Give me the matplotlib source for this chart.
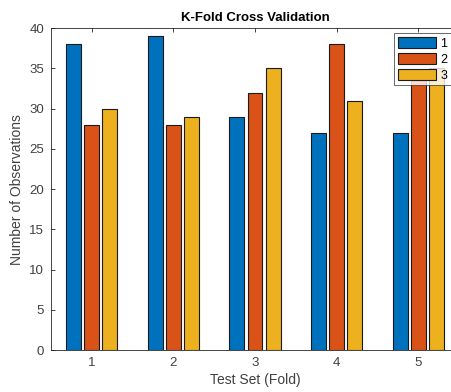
"""K-fold cross validation: observations per class in each test fold."""

import matplotlib

matplotlib.use("Agg")
import matplotlib.pyplot as plt
import numpy as np

folds = [1, 2, 3, 4, 5]
class_labels = ["1", "2", "3"]
class1 = [38, 39, 29, 27, 27]
class2 = [28, 28, 32, 38, 34]
class3 = [30, 29, 35, 31, 35]

colors = ["#0072BD", "#D95319", "#EDB120"]
ink = "#262626"

plt.rcParams["font.family"] = ["Liberation Sans", "DejaVu Sans"]

fig = plt.figure(figsize=(4.51, 3.92), dpi=100)
ax = fig.add_axes([0.113, 0.107, 0.905, 0.821])

x = np.array(folds, dtype=float)
step = 0.667 / 3
width = step * 0.82
for i, (vals, lab) in enumerate(zip([class1, class2, class3], class_labels)):
    ax.bar(x + (i - 1) * step, vals, width=width, color=colors[i],
           edgecolor="#1a1a1a", linewidth=0.8, label=lab, zorder=2)

ax.set_xlim(0.5, 5.5)
ax.set_ylim(0, 40)
ax.set_xticks(folds)
ax.set_yticks(np.arange(0, 41, 5))
ax.tick_params(direction="in", top=True, right=True, length=3, width=0.6,
               labelsize=9.5, colors=ink, labelcolor="#404040", pad=5)
for s in ax.spines.values():
    s.set_linewidth(0.6)
    s.set_color(ink)

ax.set_title("K-Fold Cross Validation", fontsize=9.5, fontweight="bold",
             color="#000000", pad=5)
ax.set_xlabel("Test Set (Fold)", fontsize=10, color="#404040", labelpad=3)
ax.set_ylabel("Number of Observations", fontsize=10, color="#404040", labelpad=4)

leg = ax.legend(loc="upper left", bbox_to_anchor=(0.84, 0.985), fontsize=9,
                frameon=True, fancybox=False, handlelength=3.1, handleheight=1.0,
                handletextpad=0.3, borderpad=0.3, labelspacing=0.25,
                borderaxespad=0)
leg.get_frame().set_edgecolor(ink)
leg.get_frame().set_linewidth(0.6)

fig.savefig("out.png", dpi=100)
